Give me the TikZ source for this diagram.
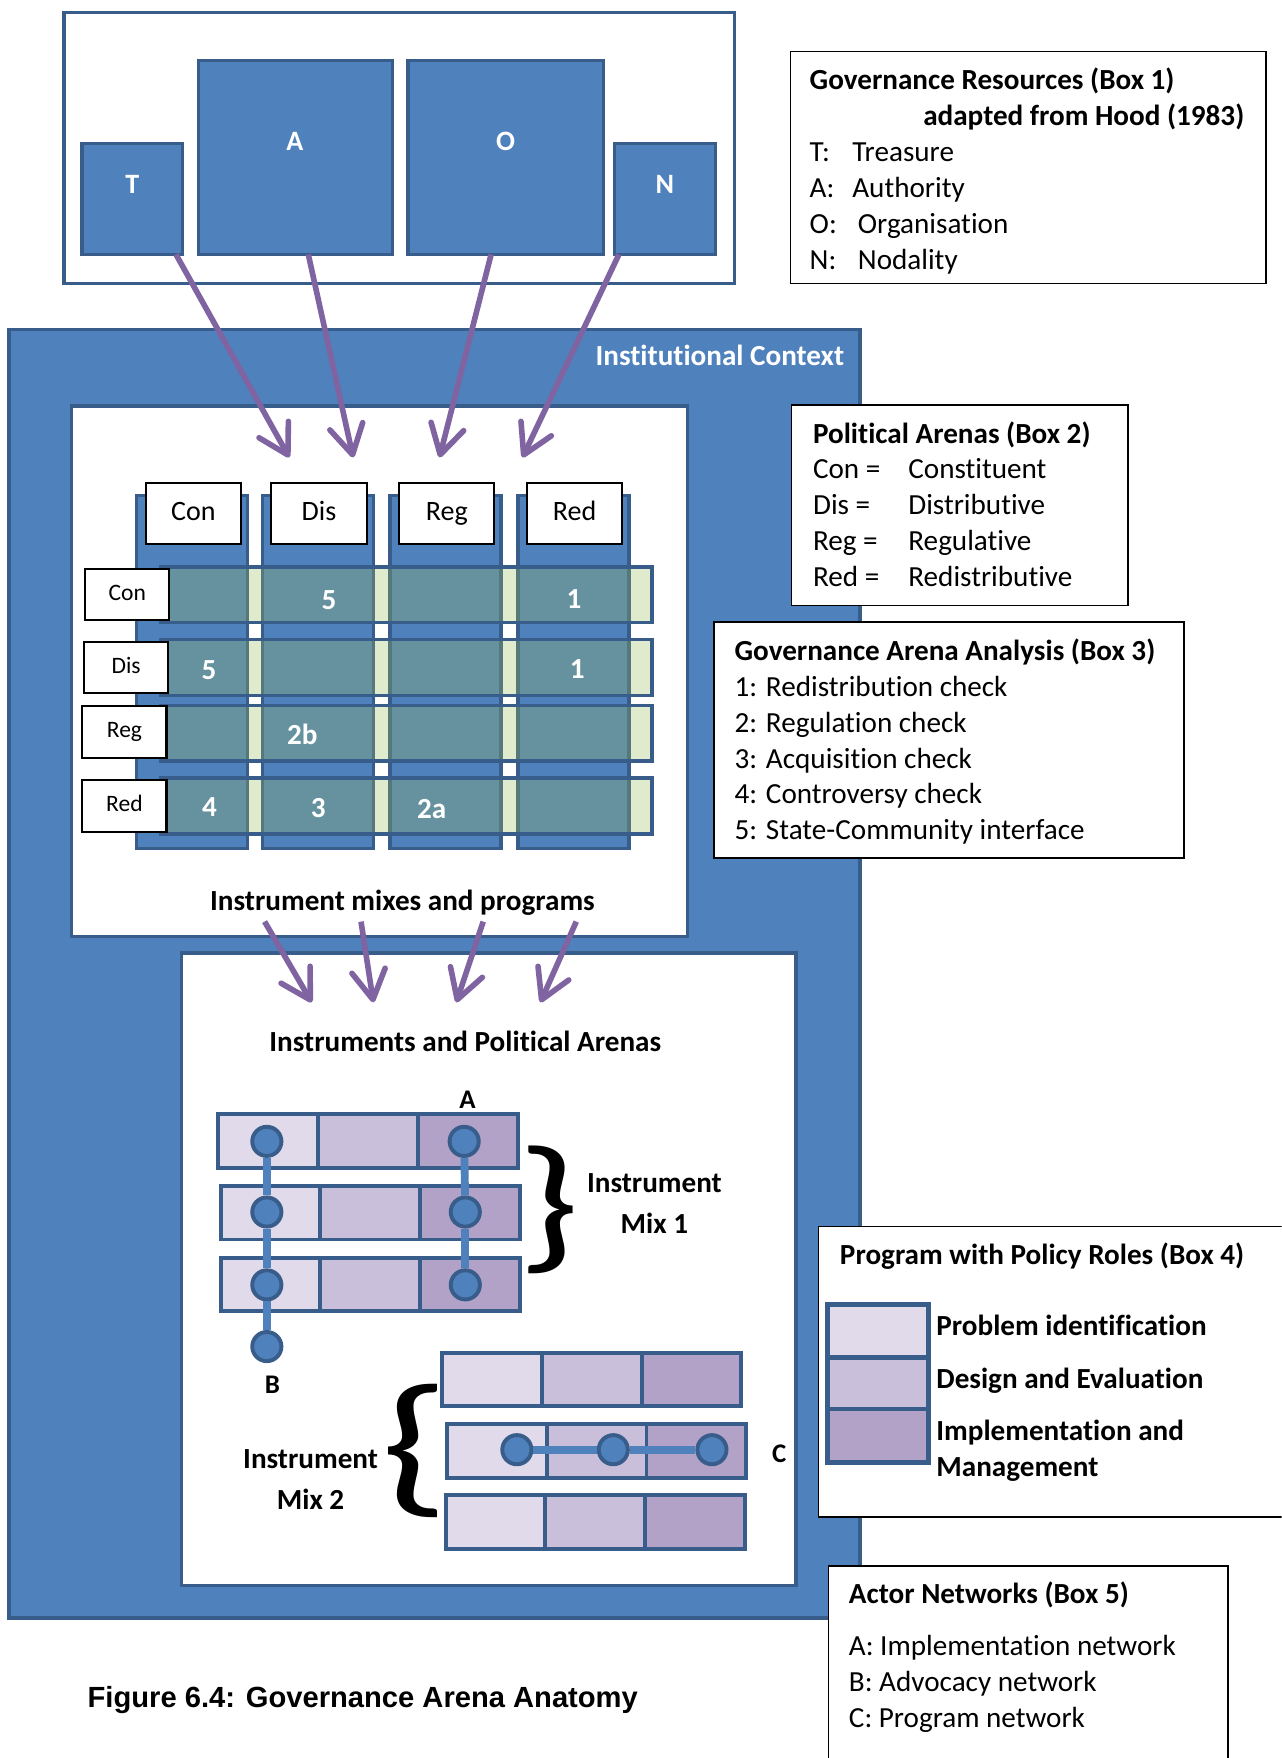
\documentclass[tikz,border=0pt]{standalone}
\usepackage{graphicx}
\usepackage{fontspec}
\setmainfont{Carlito}[Ligatures=NoCommon]
\newfontfamily\figcaptionfont{Liberation Sans}
\usetikzlibrary{arrows.meta}

\definecolor{ctxblue}{RGB}{79,129,189}
\definecolor{edgeblue}{RGB}{56,93,138}
\definecolor{flowpurple}{RGB}{128,100,162}
\definecolor{arenagreen}{RGB}{155,187,89}
\definecolor{roleA}{RGB}{224,218,234}
\definecolor{roleB}{RGB}{201,191,219}
\definecolor{roleC}{RGB}{178,162,200}

\newcommand{\fsz}[1]{\fontsize{#1}{#1}\selectfont}
% one program bar: three policy-role cells side by side
\newcommand{\rolebar}[3]{%
  \node[rolecell, fill=roleA] (#1-1) at (#2,#3) {};
  \node[rolecell, fill=roleB] (#1-2) at (#2+89,#3) {};
  \node[rolecell, fill=roleC] (#1-3) at (#2+178,#3) {};
}
% a tall brace glyph, stretched to the given width and total height
\newcommand{\tallbrace}[3]{\resizebox*{#2}{#3}{\fsz{26}#1}}

\begin{document}
\begin{tikzpicture}[x=1pt, y=-1pt,
  blk/.style={rectangle, anchor=north west, inner sep=0pt, outer sep=0pt},
  bluebox/.style={blk, fill=ctxblue, draw=edgeblue, line width=3pt},
  whitepanel/.style={blk, fill=white, draw=edgeblue, line width=3pt},
  infobox/.style={blk, fill=white, draw=black, line width=1.5pt},
  tagbox/.style={rectangle, inner sep=0pt, fill=white, draw=black, line width=1.8pt},
  arenarow/.style={blk, fill=arenagreen, fill opacity=0.3, draw=edgeblue, line width=3pt,
    minimum width=438pt, minimum height=49.7pt},
  colbar/.style={bluebox, minimum width=99pt, minimum height=315pt},
  rolecell/.style={blk, draw=edgeblue, line width=3.5pt, minimum width=89pt, minimum height=48pt},
  netdot/.style={circle, inner sep=0pt, minimum size=26pt, fill=ctxblue, draw=edgeblue, line width=3.5pt},
  netline/.style={draw=ctxblue, line width=7pt},
  flowarrow/.style={draw=flowpurple, line width=5pt, -{Straight Barb[length=26pt, width=30pt, round]}},
  bracenode/.style={inner sep=0pt, outer sep=0pt},
  bodytxt/.style={anchor=base west, inner sep=0pt, font=\fsz{26}},
  boldtxt/.style={anchor=base west, inner sep=0pt, font=\fsz{26}\bfseries},
  ctrtxt/.style={anchor=base, inner sep=0pt, font=\fsz{26}\bfseries},
  whitetxt/.style={anchor=base, inner sep=0pt, text=white, font=\fsz{#1}\bfseries},
  headtag/.style={tagbox, minimum width=85pt, minimum height=54pt, font=\fsz{25},
    text height=17pt, text depth=5pt},
  rowtag/.style={tagbox, minimum width=75pt, minimum height=46pt, font=\fsz{21},
    text height=14pt, text depth=4pt},
]
\fill[white] (0,0) rectangle (1143,1568);
\useasboundingbox (0,0) rectangle (1143,1568);
\clip (0,0) rectangle (1143,1568);

% ---------- governance resources (T, A, O, N) ----------
\node[whitepanel, minimum width=598pt, minimum height=242pt] (resframe) at (57,11) {};
\node[bluebox, minimum width=90pt, minimum height=99pt] (T) at (73,128) {};
\node[bluebox, minimum width=173pt, minimum height=173pt] (A) at (177,54) {};
\node[bluebox, minimum width=174pt, minimum height=173pt] (O) at (364,54) {};
\node[bluebox, minimum width=90pt, minimum height=99pt] (N) at (548,128) {};
\node[whitetxt=25] (Tlbl) at (118,173) {T};
\node[whitetxt=25] (Albl) at (263,134) {A};
\node[whitetxt=25] (Olbl) at (451,134) {O};
\node[whitetxt=25] (Nlbl) at (593,173) {N};

% ---------- Box 1 ----------
\node[infobox, minimum width=424pt, minimum height=207pt] (box1) at (705,46) {};
\node[boldtxt] (b1title) at (722,80) {Governance Resources (Box 1)};
\node[boldtxt, anchor=base east] (b1sub) at (1110,112) {adapted from Hood (1983)};
\node[bodytxt] (b1t) at (722,144) {\makebox[38pt][l]{T:}Treasure};
\node[bodytxt] (b1a) at (722,176) {\makebox[38pt][l]{A:}Authority};
\node[bodytxt] (b1o) at (722,208) {\makebox[43pt][l]{O:}Organisation};
\node[bodytxt] (b1n) at (722,240) {\makebox[43pt][l]{N:}Nodality};

% ---------- institutional context ----------
\node[bluebox, minimum width=759pt, minimum height=1149pt] (ctx) at (8,294) {};
\node[whitetxt=26, anchor=base east] (ctxlbl) at (753,326) {Institutional Context};

% ---------- arena matrix panel ----------
\node[whitepanel, minimum width=549pt, minimum height=473pt] (matpanel) at (64,362) {};
\node[colbar] (col1) at (122,442) {};
\node[colbar] (col2) at (234,442) {};
\node[colbar] (col3) at (348,442) {};
\node[colbar] (col4) at (462,442) {};
\node[headtag] (hCon) at (172.5,458) {Con};
\node[headtag] (hDis) at (284.5,458) {Dis};
\node[headtag] (hReg) at (398.5,458) {Reg};
\node[headtag] (hRed) at (512.5,458) {Red};
\node[arenarow] (row1) at (143.5,505.6) {};
\node[arenarow] (row2) at (143.5,570.5) {};
\node[arenarow] (row3) at (143.5,629) {};
\node[arenarow] (row4) at (143.5,694) {};
\node[rowtag] (rCon) at (113.5,530.3) {Con};
\node[rowtag] (rDis) at (112.5,595.5) {Dis};
\node[rowtag] (rReg) at (111,653) {Reg};
\node[rowtag] (rRed) at (111,719) {Red};
\node[whitetxt=26] (m12) at (293.4,544) {5};
\node[whitetxt=26] (m14) at (512,543) {1};
\node[whitetxt=26] (m21) at (186.5,606) {5};
\node[whitetxt=26] (m24) at (514.9,605) {1};
\node[whitetxt=26] (m32) at (269.7,664) {2b};
\node[whitetxt=26] (m41) at (186.9,728) {4};
\node[whitetxt=26] (m42) at (283.8,729.5) {3};
\node[whitetxt=26] (m43) at (385,730) {2a};
\node[ctrtxt] (mixlbl) at (359,812) {Instrument mixes and programs};

% ---------- instruments panel ----------
\node[whitepanel, minimum width=548pt, minimum height=564pt] (instpanel) at (162,850) {};
\node[ctrtxt] (instlbl) at (415,938) {Instruments and Political Arenas};

\rolebar{ma}{194.7}{994}
\rolebar{mb}{196.8}{1057.5}
\rolebar{mc}{196.8}{1121.7}
\rolebar{pa}{394.3}{1206.4}
\rolebar{pb}{398.6}{1269.9}
\rolebar{pc}{397.5}{1333.7}

\node[netdot] (b1) at (238,1018) {};
\node[netdot] (b2) at (238,1081) {};
\node[netdot] (b3) at (238,1146) {};
\node[netdot] (b4) at (238,1201) {};
\node[netdot] (a1) at (414,1018) {};
\node[netdot] (a2) at (415,1081) {};
\node[netdot] (a3) at (415,1146) {};
\node[netdot] (c1) at (461,1293) {};
\node[netdot] (c2) at (547,1293) {};
\node[netdot] (c3) at (635,1293) {};
\draw[netline] (b1) -- (b2);
\draw[netline] (b2) -- (b3);
\draw[netline] (b3) -- (b4);
\draw[netline] (a1) -- (a2);
\draw[netline] (a2) -- (a3);
\draw[netline] (c1) -- (c2);
\draw[netline] (c2) -- (c3);

\node[ctrtxt, font=\fsz{24}\bfseries] (lblA) at (417,989) {A};
\node[ctrtxt, font=\fsz{24}\bfseries] (lblB) at (243,1243) {B};
\node[ctrtxt, font=\fsz{24}\bfseries] (lblC) at (695,1304) {C};

\node[bracenode] (brace1) at (490,1079) {\tallbrace{\}}{56pt}{114pt}};
\node[ctrtxt] (mix1a) at (583.7,1064) {Instrument};
\node[ctrtxt] (mix1b) at (583.7,1100) {Mix 1};
\node[bracenode] (brace2) at (370.5,1294) {\tallbrace{\{}{62pt}{119pt}};
\node[ctrtxt] (mix2a) at (277,1310) {Instrument};
\node[ctrtxt] (mix2b) at (277,1346) {Mix 2};

% ---------- Box 2 ----------
\node[infobox, minimum width=300pt, minimum height=179pt] (box2) at (706,361) {};
\node[boldtxt] (b2title) at (725,396) {Political Arenas (Box 2)};
\node[bodytxt] (b2con) at (725,427) {\makebox[85pt][l]{Con =}Constituent};
\node[bodytxt] (b2dis) at (725,459) {\makebox[85pt][l]{Dis =}Distributive};
\node[bodytxt] (b2reg) at (725,491) {\makebox[85pt][l]{Reg =}Regulative};
\node[bodytxt] (b2red) at (725,523) {\makebox[85pt][l]{Red =}Redistributive};

% ---------- Box 3 ----------
\node[infobox, minimum width=419pt, minimum height=210pt] (box3) at (637,555) {};
\node[boldtxt] (b3title) at (655,589) {Governance Arena Analysis (Box 3)};
\node[bodytxt] (b3i) at (655,621) {1: Redistribution check};
\node[bodytxt] (b3ii) at (655,653) {2: Regulation check};
\node[bodytxt] (b3iii) at (655,685) {3: Acquisition check};
\node[bodytxt] (b3iv) at (655,717) {4: Controversy check};
\node[bodytxt] (b3v) at (655,749) {5: State-Community interface};

% ---------- Box 4 ----------
\node[infobox, minimum width=450pt, minimum height=259pt] (box4) at (730,1094) {};
\node[boldtxt] (b4title) at (749,1128) {Program with Policy Roles (Box 4)};
\node[blk, draw=edgeblue, line width=4pt, fill=roleA, minimum width=90pt, minimum height=47.5pt] (swA) at (738,1163.3) {};
\node[blk, draw=edgeblue, line width=4pt, fill=roleB, minimum width=90pt, minimum height=46.1pt] (swB) at (738,1210.8) {};
\node[blk, draw=edgeblue, line width=4pt, fill=roleC, minimum width=90pt, minimum height=47.4pt] (swC) at (738,1256.9) {};
\node[boldtxt] (b4p) at (835,1191) {Problem identification};
\node[boldtxt] (b4d) at (835,1238) {Design and Evaluation};
\node[boldtxt] (b4i) at (835,1285) {Implementation and};
\node[boldtxt] (b4m) at (835,1317) {Management};

% ---------- Box 5 ----------
\node[infobox, minimum width=356pt, minimum height=200pt] (box5) at (739,1397) {};
\node[boldtxt] (b5title) at (757,1430) {Actor Networks (Box 5)};
\node[bodytxt] (b5a) at (757,1477) {A: Implementation network};
\node[bodytxt] (b5b) at (757,1509) {B: Advocacy network};
\node[bodytxt] (b5c) at (757,1541) {C: Program network};

% ---------- caption ----------
\node[anchor=base west, inner sep=0pt, font=\figcaptionfont\fsz{26}\bfseries] (caption) at (78,1523) {Figure 6.4: Governance Arena Anatomy};

% ---------- flows: resources into arenas ----------
\coordinate (tT) at (258,408);
\coordinate (tA) at (315,408);
\coordinate (tO) at (392,408);
\coordinate (tN) at (466,408);
\draw[flowarrow] ([xshift=-6pt]T.south east) -- (tT);
\draw[flowarrow] ([xshift=11.5pt]A.south) -- (tA);
\draw[flowarrow] ([xshift=-13pt]O.south) -- (tO);
\draw[flowarrow] ([xshift=4pt]N.south west) -- (tN);

% ---------- flows: mixes into instruments ----------
\coordinate (s1) at (236,822);
\coordinate (s2) at (322,822);
\coordinate (s3) at (431,822);
\coordinate (s4) at (514,822);
\coordinate (u1) at (278,894);
\coordinate (u2) at (333,894);
\coordinate (u3) at (407,894);
\coordinate (u4) at (482,894);
\draw[flowarrow] (s1) -- (u1);
\draw[flowarrow] (s2) -- (u2);
\draw[flowarrow] (s3) -- (u3);
\draw[flowarrow] (s4) -- (u4);
\end{tikzpicture}
\end{document}
